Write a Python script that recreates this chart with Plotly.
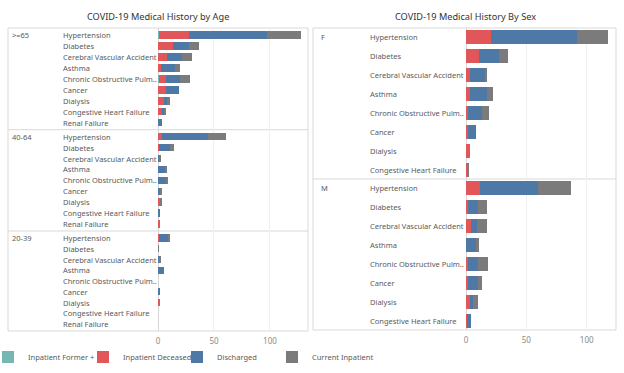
import plotly.graph_objects as go

W, H = 624, 373

# ---------------- data ----------------
categories_age = ["Hypertension", "Diabetes", "Cerebral Vascular Accident", "Asthma",
                  "Chronic Obstructive Pulm..", "Cancer", "Dialysis",
                  "Congestive Heart Failure", "Renal Failure"]
categories_sex = categories_age[:8]

status_names = ["Inpatient Former +", "Inpatient Deceased", "Discharged", "Current Inpatient"]
status_colors = ["#76B7B2", "#E15759", "#4E79A7", "#7B7B7B"]

age_groups = [">=65", "40-64", "20-39"]
sex_groups = ["F", "M"]

# per group: [former, deceased, discharged, current]
age_65_former = [1, 0, 0, 0, 1, 0, 0, 0, 0]
age_65_deceased = [27, 13, 8, 3, 6, 7, 5, 4, 0]
age_65_discharged = [69, 15, 13, 12, 13, 12, 3, 1, 4]
age_65_current = [31, 9, 9, 5, 9, 0, 3, 2, 0]

age_40_former = [0, 0, 0, 0, 0, 0, 0, 0, 0]
age_40_deceased = [4, 1, 0, 0, 0, 0, 2, 0, 1]
age_40_discharged = [41, 10, 1, 7, 7, 2, 0, 1, 0]
age_40_current = [16, 3, 2, 1, 2, 1, 1, 0, 0]

age_20_former = [0, 0, 0, 0, 0, 0, 0, 0, 0]
age_20_deceased = [1, 0, 0, 0, 0, 0, 1, 0, 0]
age_20_discharged = [8, 0, 1, 5, 0, 1, 0, 0, 0]
age_20_current = [2, 0.6, 1, 0, 0, 0, 0, 0, 0]

sex_f_former = [0, 0, 0, 0, 0, 0, 0, 0]
sex_f_deceased = [21, 11, 3, 3, 2, 2, 3, 1]
sex_f_discharged = [71, 16, 13, 14, 11, 6, 0, 0]
sex_f_current = [26, 8, 1, 5, 6, 0, 0, 1]

sex_m_former = [0, 0, 0, 0, 0, 0, 0, 0]
sex_m_deceased = [12, 2, 4, 0, 2, 2, 3, 1]
sex_m_discharged = [48, 8, 5, 8, 8, 8, 3, 3]
sex_m_current = [27, 7, 8, 3, 8, 3, 4, 0]

age_data = [
    [age_65_former, age_65_deceased, age_65_discharged, age_65_current],
    [age_40_former, age_40_deceased, age_40_discharged, age_40_current],
    [age_20_former, age_20_deceased, age_20_discharged, age_20_current],
]
sex_data = [
    [sex_f_former, sex_f_deceased, sex_f_discharged, sex_f_current],
    [sex_m_former, sex_m_deceased, sex_m_discharged, sex_m_current],
]

# ---------------- layout geometry (pixels) ----------------
left_plot_x = (158, 308)
right_plot_x = (466, 616)
left_bounds = [28, 129.7, 231, 331]
right_bounds = [28, 179, 330]
left_panel = (8, 308)
right_panel = (313, 616)
legend_x_px = [-12, 83, 177, 272]
legend_names = ["legend", "legend2", "legend3", "legend4"]


def xdom(a, b):
    return [a / W, b / W]


def ydom(top, bottom):
    return [1 - bottom / H, 1 - top / H]


fig = go.Figure()
label_font = dict(family="Noto Sans", size=7.5, color="#5A5A5A")

layout_axes = {}
annotations = []
shapes = []

# left panel
for gi, (grp, series) in enumerate(zip(age_groups, age_data)):
    yname = "y" if gi == 0 else f"y{gi + 1}"
    for si, vals in enumerate(series):
        fig.add_trace(go.Bar(
            y=categories_age, x=vals, orientation="h", name=status_names[si],
            marker=dict(color=status_colors[si], line=dict(width=0)),
            xaxis="x", yaxis=yname, width=0.68,
            legend=legend_names[si],
            legendgroup=status_names[si], showlegend=(gi == 0),
        ))
    key = "yaxis" if gi == 0 else f"yaxis{gi + 1}"
    layout_axes[key] = dict(
        domain=ydom(left_bounds[gi], left_bounds[gi + 1]), anchor="x",
        categoryorder="array", categoryarray=categories_age,
        autorange="reversed", showticklabels=False, showgrid=False,
        zeroline=False, showline=False, fixedrange=True,
    )
    annotations.append(dict(text=grp, x=10 / W, xref="paper", xanchor="left",
                            y=categories_age[0], yref=yname, showarrow=False,
                            font=label_font))
    for c in categories_age:
        annotations.append(dict(text=c, x=61 / W, xref="paper", xanchor="left",
                                y=c, yref=yname, showarrow=False, font=label_font))

# right panel
for gi, (grp, series) in enumerate(zip(sex_groups, sex_data)):
    yname = f"y{gi + 4}"
    for si, vals in enumerate(series):
        fig.add_trace(go.Bar(
            y=categories_sex, x=vals, orientation="h", name=status_names[si],
            marker=dict(color=status_colors[si], line=dict(width=0)),
            xaxis="x2", yaxis=yname, width=0.74,
            legend=legend_names[si],
            legendgroup=status_names[si], showlegend=False,
        ))
    layout_axes[f"yaxis{gi + 4}"] = dict(
        domain=ydom(right_bounds[gi], right_bounds[gi + 1]), anchor="x2",
        categoryorder="array", categoryarray=categories_sex,
        autorange="reversed", showticklabels=False, showgrid=False,
        zeroline=False, showline=False, fixedrange=True,
    )
    annotations.append(dict(text=grp, x=319 / W, xref="paper", xanchor="left",
                            y=categories_sex[0], yref=yname, showarrow=False,
                            font=label_font))
    for c in categories_sex:
        annotations.append(dict(text=c, x=368 / W, xref="paper", xanchor="left",
                                y=c, yref=yname, showarrow=False, font=label_font))

xaxis_common = dict(
    showgrid=True, gridcolor="#EFEFEF", gridwidth=1,
    zeroline=True, zerolinecolor="#D6D6D6", zerolinewidth=1,
    tickvals=[0, 50, 100], ticks="", showline=False,
    tickfont=dict(family="Noto Sans", size=8, color="#8A8A8A"),
    ticklabelstandoff=4,
    fixedrange=True,
)
layout_axes["xaxis"] = dict(domain=xdom(*left_plot_x), anchor="y3", range=[0, 134], **xaxis_common)
layout_axes["xaxis2"] = dict(domain=xdom(*right_plot_x), anchor="y5", range=[0, 124.3], **xaxis_common)

# titles
title_font = dict(family="Noto Sans", size=9.2, color="#333333")
annotations.append(dict(text="COVID-19 Medical History by Age", x=158 / W, y=1 - 16 / H,
                        xref="paper", yref="paper", xanchor="center", yanchor="middle",
                        showarrow=False, font=title_font))
annotations.append(dict(text="COVID-19 Medical History By Sex", x=465 / W, y=1 - 16 / H,
                        xref="paper", yref="paper", xanchor="center", yanchor="middle",
                        showarrow=False, font=title_font))

# panel borders and group separators
border = dict(color="#D9D9D9", width=1)
for (x0, x1), bounds in [(left_panel, left_bounds), (right_panel, right_bounds)]:
    shapes.append(dict(type="rect", xref="paper", yref="paper",
                       x0=x0 / W, x1=x1 / W, y0=1 - bounds[-1] / H, y1=1 - bounds[0] / H,
                       line=border, fillcolor="rgba(0,0,0,0)", layer="below"))
    for b in bounds[1:-1]:
        shapes.append(dict(type="line", xref="paper", yref="paper",
                           x0=x0 / W, x1=x1 / W, y0=1 - b / H, y1=1 - b / H,
                           line=border, layer="below"))

legend_layouts = {}
for name, lx in zip(legend_names, legend_x_px):
    legend_layouts[name] = dict(
        orientation="h", x=lx / W, y=1 - 357 / H, yanchor="middle", xanchor="left",
        font=dict(family="Noto Sans", size=7.5, color="#5A5A5A"),
        itemwidth=30, bgcolor="rgba(0,0,0,0)",
    )

fig.update_layout(
    width=W, height=H,
    margin=dict(l=0, r=0, t=0, b=0, autoexpand=False),
    paper_bgcolor="white", plot_bgcolor="white",
    barmode="stack", bargap=0.3,
    showlegend=True,
    annotations=annotations,
    shapes=shapes,
    **legend_layouts,
    **layout_axes,
)

fig.write_html("out.html", config={"displayModeBar": False},
               post_script="document.body.style.margin='0';")
